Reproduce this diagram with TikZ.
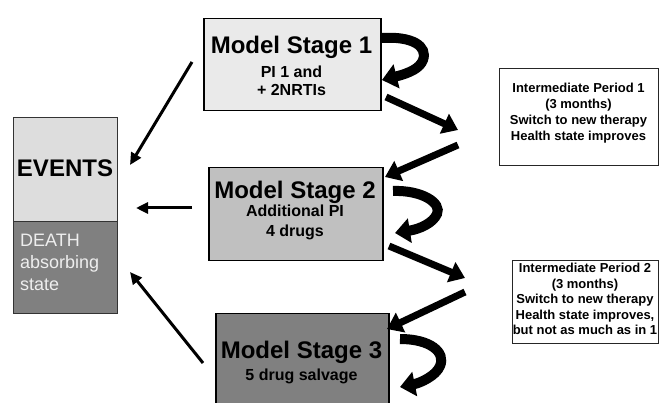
\documentclass[tikz,border=0pt]{standalone}
\usepackage{fontspec}
\setmainfont{Liberation Sans}
\usetikzlibrary{arrows.meta}
\definecolor{stageA}{HTML}{EAEAEA}
\definecolor{stageB}{HTML}{C0C0C0}
\definecolor{stageC}{HTML}{808080}
\definecolor{evtop}{HTML}{DDDDDD}
\definecolor{evbot}{HTML}{808080}
\definecolor{deathtxt}{HTML}{EEEEEE}
\begin{document}
\begin{tikzpicture}[x=1pt,y=-1pt,
  stagebox/.style={draw=black,line width=1.5pt,anchor=north west,inner sep=0pt},
  evbox/.style={draw=black!80,line width=0.8pt,anchor=north west,inner sep=0pt},
  periodbox/.style={draw=black!85,line width=1pt,fill=white,anchor=north west,inner sep=0pt},
  titletxt/.style={font=\bfseries\fontsize{24}{24}\selectfont,anchor=base,inner sep=0pt},
  subtxt/.style={font=\bfseries\fontsize{16}{16}\selectfont,anchor=base,inner sep=0pt},
  deathline/.style={font=\fontsize{18}{18}\selectfont,text=deathtxt,anchor=base west,inner sep=0pt},
  pertxt/.style={font=\bfseries\fontsize{13}{13}\selectfont,anchor=base,inner sep=0pt},
  thinarrow/.style={draw=black,line width=3pt,-{Triangle[length=12pt,width=11pt]}},
  blockarrow/.style={draw=black,line width=7pt,-{Triangle[length=15pt,width=21pt]}},
  uturn/.style={draw=black,line width=10pt,-{Triangle[length=15pt,width=24pt]}}
]
\useasboundingbox (0,0) rectangle (659,403);

% EVENTS box
\node[evbox,fill=evtop,minimum width=104pt,minimum height=104pt] (evt) at (13,117) {};
\node[evbox,fill=evbot,minimum width=104pt,minimum height=92pt] (evd) at (13,221) {};
\node[titletxt] (evtxt) at (65,177) {EVENTS};
\node[deathline] (d1) at (20,247) {DEATH};
\node[deathline] (d2) at (20,269) {absorbing};
\node[deathline] (d3) at (20,291) {state};

% Stage boxes
\node[stagebox,fill=stageA,minimum width=177pt,minimum height=92pt] (s1) at (203,18) {};
\node[titletxt] (s1a) at (291.5,54) {Model Stage 1};
\node[subtxt] (s1b) at (291.5,78) {PI 1 and};
\node[subtxt] (s1c) at (291.5,96) {+ 2NRTIs};

\node[stagebox,fill=stageB,minimum width=174pt,minimum height=93pt] (s2) at (208,167) {};
\node[titletxt] (s2a) at (295,199) {Model Stage 2};
\node[subtxt] (s2b) at (295,217) {Additional PI};
\node[subtxt] (s2c) at (295,237) {4 drugs};

\node[stagebox,fill=stageC,minimum width=173pt,minimum height=110pt] (s3) at (215,313) {};
\node[titletxt] (s3a) at (301.5,359) {Model Stage 3};
\node[subtxt] (s3b) at (301.5,381) {5 drug salvage};

% Intermediate period boxes
\node[periodbox,minimum width=159pt,minimum height=97pt] (p1) at (499,68) {};
\node[pertxt] (p1a) at (578.5,92.5) {Intermediate Period 1};
\node[pertxt] (p1b) at (578.5,108.5) {(3 months)};
\node[pertxt] (p1c) at (578.5,124.5) {Switch to new therapy};
\node[pertxt] (p1d) at (578.5,140.5) {Health state improves};

\node[periodbox,minimum width=146pt,minimum height=83pt] (p2) at (512,260) {};
\node[pertxt] (p2a) at (585,273) {Intermediate Period 2};
\node[pertxt] (p2b) at (585,288.5) {(3 months)};
\node[pertxt] (p2c) at (585,304) {Switch to new therapy};
\node[pertxt] (p2d) at (585,319.5) {Health state improves,};
\node[pertxt] (p2e) at (585,335) {but not as much as in 1};

% thin arrows to EVENTS
\coordinate (a1s) at (192,62);  \coordinate (a1e) at (130,165);
\coordinate (a2s) at (192,208); \coordinate (a2e) at (136,208);
\coordinate (a3s) at (203,363); \coordinate (a3e) at (130,272);
\draw[thinarrow] (a1s) -- (a1e);
\draw[thinarrow] (a2s) -- (a2e);
\draw[thinarrow] (a3s) -- (a3e);

% block arrows to/from intermediate periods
\coordinate (b1s) at (386,97);  \coordinate (b1e) at (458,130);
\coordinate (b2s) at (458,145); \coordinate (b2e) at (385,177);
\coordinate (b3s) at (389,246); \coordinate (b3e) at (465,278);
\coordinate (b4s) at (465,292); \coordinate (b4e) at (387,329);
\draw[blockarrow] (b1s) -- (b1e);
\draw[blockarrow] (b2s) -- (b2e);
\draw[blockarrow] (b3s) -- (b3e);
\draw[blockarrow] (b4s) -- (b4e);

% U-turn arrows
\coordinate (u1s) at (382,38);  \coordinate (u1e) at (382,80);
\coordinate (u2s) at (393,191); \coordinate (u2e) at (395,233);
\coordinate (u3s) at (400,339); \coordinate (u3e) at (400,387);
\draw[uturn] (u1s) .. controls (412,36) and (428,46) .. (423,60)
  .. controls (420,68) and (410,73) .. (u1e);
\draw[uturn] (u2s) .. controls (422,190) and (442,203) .. (437,214)
  .. controls (433,223) and (420,229) .. (u2e);
\draw[uturn] (u3s) .. controls (430,339) and (446,352) .. (440,366)
  .. controls (436,376) and (420,383) .. (u3e);
\end{tikzpicture}
\end{document}
